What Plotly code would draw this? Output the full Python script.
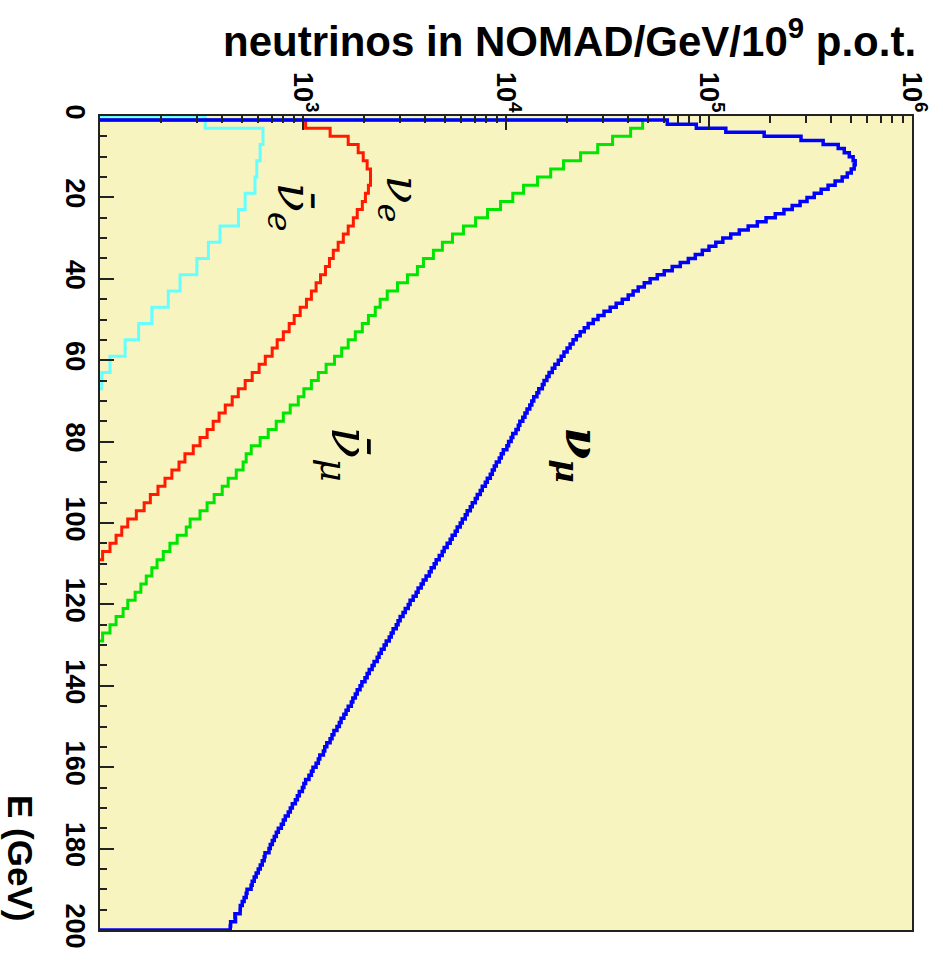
import plotly.graph_objects as go

# ---------------- data ----------------
# nu_mu : 1 GeV bins, low edges 1..199
numu_edges = list(range(1, 201))
numu_vals = [
    62300, 86600, 121000, 187000, 284000, 365000, 433000, 464000, 491000, 513000,
    525000, 519000, 502000, 480000, 453000, 418000, 386000, 357000, 330000, 304000,
    281000, 257000, 234000, 212000, 191000, 173000, 156000, 141000, 128000, 117000,
    108000, 100000, 92700, 85600, 79100, 72200, 65900, 60200, 55600, 51300,
    48000, 44800, 42300, 40000, 37400, 34900, 32600, 30400, 28400, 26900,
    25400, 24300, 23200, 22200, 21400, 20700, 20000, 19300, 18700, 18100,
    17400, 16900, 16300, 15900, 15400, 15100, 14500, 14200, 13700, 13400,
    13100, 12700, 12400, 12100, 11700, 11500, 11200, 10800, 10600, 10300,
    10100, 9700, 9480, 9270, 8960, 8760, 8560, 8370, 8090, 7910,
    7640, 7470, 7220, 7060, 6820, 6670, 6440, 6300, 6090, 5950,
    5750, 5620, 5430, 5310, 5130, 4960, 4850, 4690, 4530, 4430,
    4280, 4190, 4040, 3910, 3820, 3690, 3610, 3490, 3370, 3300,
    3190, 3110, 3010, 2940, 2880, 2780, 2720, 2660, 2570, 2510,
    2430, 2370, 2320, 2240, 2190, 2120, 2070, 2020, 1950, 1910,
    1850, 1810, 1760, 1730, 1670, 1630, 1590, 1540, 1510, 1470,
    1420, 1390, 1360, 1310, 1280, 1260, 1210, 1190, 1160, 1120,
    1100, 1070, 1030, 1010, 993, 959, 938, 917, 886, 866,
    846, 818, 800, 782, 756, 739, 722, 706, 690, 680,
    650, 644, 630, 616, 602, 588, 575, 562, 555, 530,
    525, 513, 502, 491, 490, 462, 465, 440, 438,
]

# anti nu_mu : 2 GeV bins, low edges 1..127
anumu_edges = list(range(1, 131, 2))
anumu_vals = [
    47100, 41100, 33500, 28300, 23300, 19200, 16600, 14300, 12200, 10800,
    9400, 8110, 7080, 6170, 5450, 4860, 4390, 3920, 3660, 3270,
    2920, 2600, 2400, 2270, 2100, 1960, 1810, 1670, 1550, 1430,
    1300, 1190, 1100, 1010, 948, 865, 800, 738, 674, 615,
    556, 525, 507, 469, 428, 400, 365, 337, 311, 278,
    266, 240, 221, 205, 191, 180, 169, 159, 149, 137,
    130, 120, 112, 103,
]

# nu_e : 2 GeV bins, low edges 1..107
nue_edges = list(range(1, 111, 2))
nue_vals = [
    1030, 1360, 1670, 1870, 1980, 2070, 2150, 2150, 2100, 2030,
    1960, 1850, 1770, 1670, 1580, 1490, 1410, 1350, 1290, 1220,
    1160, 1100, 1040, 969, 905, 855, 800, 746, 705, 652,
    608, 562, 519, 480, 448, 414, 386, 361, 337, 311,
    288, 262, 245, 226, 209, 193, 177, 165, 151, 137,
    128, 120, 112, 103,
]

# anti nu_e : 4 GeV bins
anue_edges = [0, 3, 7, 11, 15, 19, 23, 27, 31, 35, 39, 43, 47, 51, 55, 59, 63, 67]
anue_vals = [330, 635, 615, 592, 580, 519, 481, 390, 342, 300,
             248, 217, 180, 155, 133, 112, 102]

x_ticks = [1e3, 1e4, 1e5, 1e6]
x_ticktext = ["10<sup>3</sup>", "10<sup>4</sup>", "10<sup>5</sup>", "10<sup>6</sup>"]
y_ticks = list(range(0, 201, 20))

XMIN = 100  # value at the left frame (10^2)


def step_path(edges, vals, floor):
    xs = [floor] + list(vals) + [floor]
    ys = [edges[0]] + list(edges[:-1]) + [edges[-1]]
    return xs, ys


fig = go.Figure()
series = [
    (anue_edges, anue_vals, "#66ffff", 3),
    (nue_edges, nue_vals, "#ff1a00", 3),
    (anumu_edges, anumu_vals, "#00e600", 3),
    (numu_edges, numu_vals, "#0000ff", 3.5),
]
for edges, vals, col, w in series:
    xs, ys = step_path(edges, vals, XMIN)
    fig.add_trace(go.Scatter(x=xs, y=ys, mode="lines",
                             line=dict(color=col, width=w, shape="vh"),
                             hoverinfo="skip"))

minor_x = [m * 10 ** k for k in range(2, 6) for m in range(2, 10)]
axis_col = "#222222"
tick_font = dict(family="Liberation Sans", size=27, color="black", weight="bold")

fig.update_layout(
    width=943, height=971,
    margin=dict(l=100, r=31, t=116, b=41),
    paper_bgcolor="white",
    plot_bgcolor="#f8f4c0",
    showlegend=False,
    xaxis=dict(
        type="log", range=[2, 6], side="top",
        tickmode="array", tickvals=x_ticks, ticktext=x_ticktext,
        tickangle=90, tickfont=tick_font, ticklabelstandoff=-8,
        ticks="inside", ticklen=14, tickwidth=2, tickcolor=axis_col,
        minor=dict(tickmode="array", tickvals=minor_x, ticks="inside",
                   ticklen=7, tickwidth=2, tickcolor=axis_col, showgrid=False),
        showline=True, linecolor=axis_col, linewidth=2, mirror=True,
        showgrid=False, zeroline=False,
    ),
    yaxis=dict(
        range=[200, 0],
        tickmode="array", tickvals=y_ticks,
        tickangle=90, tickfont=tick_font,
        ticks="inside", ticklen=14, tickwidth=2, tickcolor=axis_col,
        minor=dict(dtick=5, ticks="inside", ticklen=7, tickwidth=2,
                   tickcolor=axis_col, showgrid=False),
        showline=True, linecolor=axis_col, linewidth=2, mirror=True,
        showgrid=False, zeroline=False,
    ),
)

# titles
fig.add_annotation(xref="paper", yref="paper", x=1.008, y=1.096,
                   xanchor="right", yanchor="middle", showarrow=False,
                   text="neutrinos in NOMAD/GeV/10<sup>9</sup> p.o.t.",
                   font=dict(family="Liberation Sans", size=42, color="black", weight="bold"))
fig.add_annotation(xref="paper", yref="paper", x=-0.098, y=0.088,
                   xanchor="center", yanchor="middle", showarrow=False,
                   textangle=90, text="E (GeV)",
                   font=dict(family="Liberation Sans", size=35, color="black", weight="bold"))

# curve labels
lab_font = dict(family="DejaVu Serif", size=50, color="black", style="italic")
fig.add_annotation(x=4.358, y=83.3, showarrow=False, textangle=90,
                   text="ν<sub>μ</sub>",
                   font=dict(family="DejaVu Serif", size=46, color="black",
                             style="italic", weight="bold"))
fig.add_annotation(x=3.213, y=83.0, showarrow=False, textangle=90,
                   text="ν\u0304<sub>μ</sub>", font=dict(lab_font, size=52))
fig.add_annotation(x=3.480, y=20.4, showarrow=False, textangle=90,
                   text="ν<sub>e</sub>", font=dict(lab_font, size=46))
fig.add_annotation(x=2.942, y=22.3, showarrow=False, textangle=90,
                   text="ν\u0304<sub>e</sub>", font=dict(lab_font, size=48))

fig.write_html("out.html")
